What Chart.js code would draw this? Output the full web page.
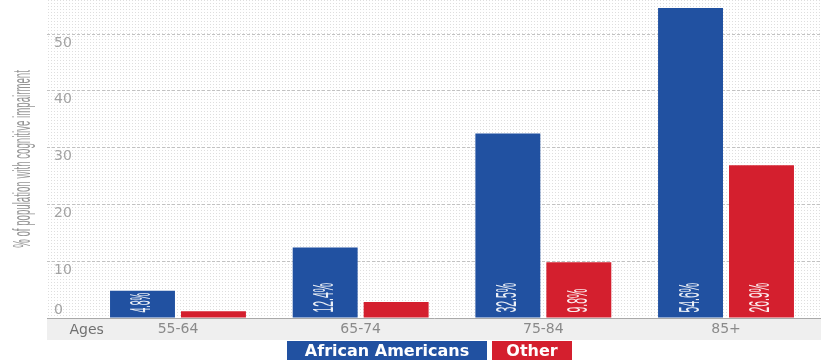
<!DOCTYPE html>
<html>
<head>
<meta charset="utf-8">
<script src="https://cdn.jsdelivr.net/npm/chart.js@4.4.1/dist/chart.umd.min.js"></script>
<style>
  html, body { margin: 0; padding: 0; background: #ffffff; }
  #wrap { position: relative; width: 821px; height: 360px; overflow: hidden; }
  #legend {
    position: absolute; left: 287px; top: 341px;
    display: flex; gap: 5px;
  }
  #legend .item {
    height: 20px; line-height: 20px; text-align: center;
    color: #ffffff; font: bold 16px "DejaVu Sans", sans-serif;
  }
</style>
</head>
<body>
<div id="wrap">
  <canvas id="chart" width="821" height="360"></canvas>
  <div id="legend"></div>
</div>
<script>
// Share of each age group with cognitive impairment (%)
const ageGroups = ['55-64', '65-74', '75-84', '85+'];
const africanAmericans = [4.8, 12.4, 32.5, 54.6];
const other = [1.2, 2.8, 9.8, 26.9];

const seriesNames = ['African Americans', 'Other'];
const seriesColors = ['#2151a1', '#d41f2e'];
const yTickValues = [0, 10, 20, 30, 40, 50];
const xLeadLabel = 'Ages';
const yTitle = '% of population with cognitive impairment';

const legendWidths = [200, 80];
const TEXT_NARROW = 0.36;   // squeeze factor for the upright value labels
const TITLE_NARROW = 0.42;  // squeeze factor for the axis title
const MIN_LABEL_BAR = 20;   // bars shorter than this get no value label
const tickFont = { family: 'DejaVu Sans', size: 14 };

// Light dotted backdrop for the plotting area
function dotPattern(ctx) {
  const c = document.createElement('canvas');
  c.width = 3; c.height = 3;
  const g = c.getContext('2d');
  g.fillStyle = '#dedede';
  g.fillRect(0, 0, 1, 1);
  return ctx.createPattern(c, 'repeat');
}

const backdrop = {
  id: 'backdrop',
  beforeDraw(chart) {
    const { ctx, chartArea: a, scales: { x } } = chart;
    ctx.save();
    ctx.fillStyle = dotPattern(ctx);
    ctx.fillRect(a.left, a.top, a.right - a.left, a.bottom - a.top);
    // grey band behind the category labels
    ctx.fillStyle = '#efefef';
    ctx.fillRect(x.left, x.top + 1, x.right - x.left, x.bottom - x.top - 1);
    // leading "Ages" caption in the band
    ctx.fillStyle = '#707070';
    ctx.font = tickFont.size + 'px "' + tickFont.family + '"';
    ctx.textAlign = 'center';
    ctx.textBaseline = 'middle';
    ctx.fillText(xLeadLabel, x.getPixelForValue(-0.5), (x.top + x.bottom) / 2 + 1);
    // rotated, condensed axis title
    ctx.translate(24, (a.top + a.bottom) / 2);
    ctx.rotate(-Math.PI / 2);
    ctx.scale(TITLE_NARROW, 1);
    ctx.fillStyle = '#959595';
    ctx.font = '23px "Liberation Sans"';
    ctx.fillText(yTitle, 0, 0);
    ctx.restore();
  }
};

// Upright percentage labels inside the bars
const barValues = {
  id: 'barValues',
  afterDatasetsDraw(chart) {
    const { ctx } = chart;
    ctx.save();
    ctx.font = '29px "Liberation Sans"';
    ctx.fillStyle = 'rgba(255,255,255,0.92)';
    ctx.textAlign = 'left';
    ctx.textBaseline = 'middle';
    chart.data.datasets.forEach((ds, di) => {
      chart.getDatasetMeta(di).data.forEach((bar, i) => {
        const h = bar.base - bar.y;
        if (h < MIN_LABEL_BAR) return;
        const text = ds.data[i].y.toFixed(1) + '%';
        const w = ctx.measureText(text).width;
        // squeeze further when the bar is too short for the text
        const squeeze = Math.min(TEXT_NARROW, (h - 7) / w);
        ctx.save();
        ctx.translate(bar.x, bar.base - 5);
        ctx.rotate(-Math.PI / 2);
        ctx.scale(squeeze, 1);
        ctx.fillText(text, 0, 0);
        ctx.restore();
      });
    });
    ctx.restore();
  }
};

// drop the edge padding Chart.js reserves for tick labels
const noEdgePadding = s => {
  s.paddingTop = 0; s.paddingBottom = 0;
  s.paddingLeft = 0; s.paddingRight = 0;
};

const toPoints = vals => vals.map((v, i) => ({ x: i, y: v }));

const chart = new Chart(document.getElementById('chart'), {
  type: 'bar',
  data: {
    datasets: [
      { label: seriesNames[0], data: toPoints(africanAmericans), backgroundColor: seriesColors[0] },
      { label: seriesNames[1], data: toPoints(other), backgroundColor: seriesColors[1] }
    ]
  },
  options: {
    responsive: false,
    animation: false,
    categoryPercentage: 0.777,
    barPercentage: 0.915,
    layout: { padding: { top: 0, right: 0, bottom: 20, left: 0 } },
    plugins: { legend: { display: false }, tooltip: { enabled: false } },
    scales: {
      x: {
        type: 'linear',
        offset: false,
        min: -0.717,
        max: 3.52,
        afterBuildTicks: s => { s.ticks = ageGroups.map((_, i) => ({ value: i })); },
        afterFit: s => { s.height = 22; noEdgePadding(s); },
        ticks: {
          callback: v => ageGroups[v],
          color: '#8a8a8a',
          font: tickFont,
          padding: 3,
          maxRotation: 0,
          autoSkip: false
        },
        grid: { display: false, drawTicks: false },
        border: { display: true, color: '#a9a9a9', width: 1 }
      },
      y: {
        min: 0,
        max: 56,
        afterBuildTicks: s => { s.ticks = yTickValues.map(v => ({ value: v })); },
        afterFit: s => { s.width = 47; noEdgePadding(s); },
        ticks: {
          mirror: true,
          padding: 7,
          labelOffset: 9,
          color: '#a3a3a3',
          font: tickFont,
          // the zero label sits above the axis line
          callback: v => v === 0 ? ['0', '', ''] : String(v)
        },
        grid: {
          drawTicks: false,
          color: c => c.tick && c.tick.value === 0 ? 'rgba(0,0,0,0)' : '#c2c2c2',
          lineWidth: 1
        },
        border: { display: false, dash: [3, 2] }
      }
    }
  },
  plugins: [backdrop, barValues]
});

// Legend: coloured boxes holding the series names
const legend = document.getElementById('legend');
chart.data.datasets.forEach((ds, i) => {
  const el = document.createElement('div');
  el.className = 'item';
  el.style.background = ds.backgroundColor;
  el.style.width = legendWidths[i] + 'px';
  el.textContent = ds.label;
  legend.appendChild(el);
});
</script>
</body>
</html>
